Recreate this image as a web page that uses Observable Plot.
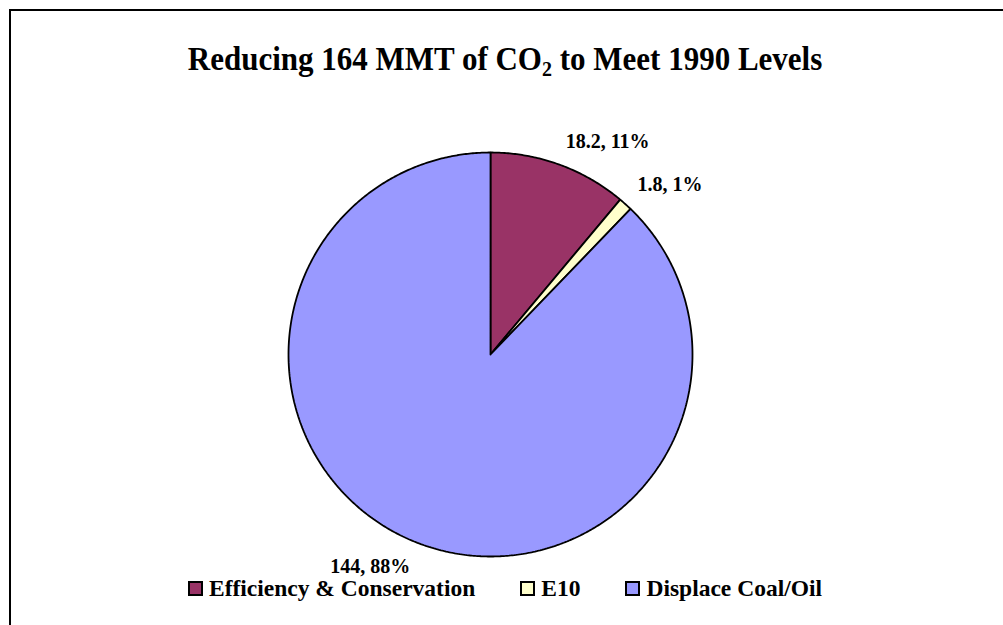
<!DOCTYPE html>
<html>
<head>
<meta charset="utf-8">
<script src="https://cdn.jsdelivr.net/npm/d3@7"></script>
<script src="https://cdn.jsdelivr.net/npm/@observablehq/plot@0.6"></script>
<style>
  html, body { margin: 0; padding: 0; background: #fff; }
  body { width: 1003px; height: 625px; overflow: hidden; position: relative;
         font-family: "Liberation Serif", "Times New Roman", serif; font-weight: bold; color: #000; }
  #frame { position: absolute; left: 9px; top: 9px; width: 1200px; height: 800px;
           border: 2px solid #000; box-sizing: border-box; }
  #title { position: absolute; left: 10px; width: 990px; top: 42px; text-align: center;
           font-size: 31px; line-height: 36px; white-space: nowrap;
           transform: scaleY(1.06); transform-origin: 50% 75%; }
  #title sub { font-size: 20px; vertical-align: -6px; line-height: 0; }
  #chart { position: absolute; left: 0; top: 0; }
  #legend { position: absolute; left: 10px; width: 990px; top: 575px; display: flex;
            justify-content: center; gap: 45px; font-size: 23.5px; line-height: 26px; }
  #legend .item { display: flex; align-items: center; white-space: nowrap; }
  #legend .sw { width: 11px; height: 11px; border: 2px solid #000; margin-right: 6px; margin-top: 1px; }
</style>
</head>
<body>
<div id="frame"></div>
<div id="title">Reducing 164 MMT of CO<sub>2</sub> to Meet 1990 Levels</div>
<div id="chart"></div>
<div id="legend"></div>
<script>
// Reduction sources (million metric tons of CO2)
const categories = ["Efficiency & Conservation", "E10", "Displace Coal/Oil"];
const values = [18.2, 1.8, 144];
const percents = ["11%", "1%", "88%"];
const colors = ["#993366", "#FFFFCC", "#9999FF"];

// Slice angles, clockwise from twelve o'clock
const pie = d3.pie().sort(null).value(d => d.value);
const arcs = pie(categories.map((name, i) => ({name, value: values[i], pct: percents[i]})));

// Outline of each slice as a closed polygon in unit-circle coordinates
const outline = [];
for (const a of arcs) {
  const name = a.data.name;
  outline.push({name, x: 0, y: 0});
  const n = Math.max(2, Math.ceil((a.endAngle - a.startAngle) / (Math.PI / 360)));
  for (let k = 0; k <= n; ++k) {
    const t = a.startAngle + (a.endAngle - a.startAngle) * k / n;
    outline.push({name, x: Math.sin(t), y: Math.cos(t)});
  }
  outline.push({name, x: 0, y: 0});
}

// Value labels just outside each slice's mid-angle
const labelRadius = 1.09;
const labels = arcs.map(a => {
  const m = (a.startAngle + a.endAngle) / 2;
  return {
    x: Math.sin(m) * labelRadius,
    y: Math.cos(m) * labelRadius,
    text: `${a.data.value}, ${a.data.pct}`,
    anchor: Math.sin(m) >= 0 ? "start" : "end",
    line: Math.cos(m) >= 0 ? "bottom" : "top"
  };
});

const labelStyle = {fontSize: 20, fontWeight: "bold", fontFamily: "Liberation Serif, Times New Roman, serif", fill: "#000"};
const labelMarks = [];
for (const anchor of ["start", "end"]) {
  for (const line of ["top", "bottom"]) {
    labelMarks.push(Plot.text(labels.filter(d => d.anchor === anchor && d.line === line), {
      x: "x", y: "y", text: "text", textAnchor: anchor, lineAnchor: line,
      dx: anchor === "end" ? 2 : 0, ...labelStyle
    }));
  }
}

const chart = Plot.plot({
  width: 1003,
  height: 625,
  margin: 0,
  style: {background: "transparent", overflow: "visible"},
  x: {domain: [-1, 1], range: [288, 692], axis: null},
  y: {domain: [-1, 1], range: [556, 152], axis: null},
  color: {domain: categories, range: colors},
  marks: [
    Plot.line(outline, {x: "x", y: "y", z: "name", fill: "name", stroke: "#000",
      strokeWidth: 1.8, strokeLinejoin: "miter", curve: "linear"}),
    ...labelMarks
  ]
});
document.getElementById("chart").appendChild(chart);

// Legend built from the same color scale
const color = chart.scale("color");
const legend = document.getElementById("legend");
color.domain.forEach((name, i) => {
  const item = document.createElement("div");
  item.className = "item";
  const sw = document.createElement("div");
  sw.className = "sw";
  sw.style.background = color.range[i];
  item.appendChild(sw);
  item.appendChild(document.createTextNode(name));
  legend.appendChild(item);
});
</script>
</body>
</html>
